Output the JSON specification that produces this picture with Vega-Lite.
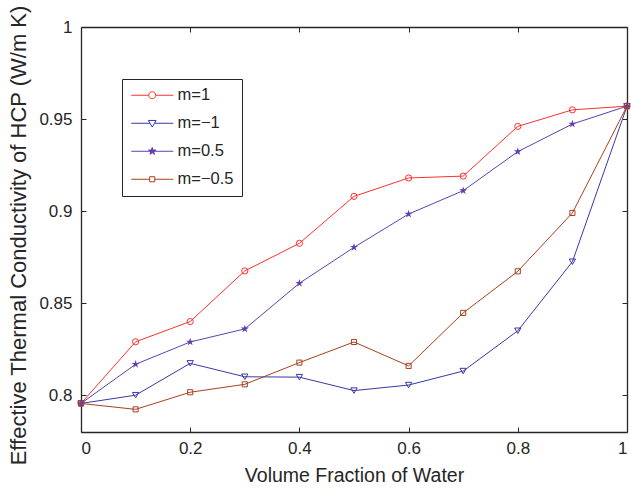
{
  "$schema": "https://vega.github.io/schema/vega-lite/v6.json",
  "width": 546,
  "height": 405,
  "autosize": {"type": "none"},
  "padding": {"left": 81, "top": 27, "right": 4, "bottom": 56},
  "background": "white",
  "config": {
    "font": "Liberation Sans",
    "view": {"stroke": null},
    "axis": {
      "grid": false,
      "domainColor": "#262626",
      "domainWidth": 1.3,
      "tickColor": "#262626",
      "tickWidth": 1,
      "tickSize": -5,
      "labelColor": "#262626",
      "labelFontSize": 17,
      "labelFont": "Liberation Sans",
      "titleColor": "#262626",
      "titleFontWeight": "normal",
      "titleFont": "Liberation Sans"
    }
  },
  "data": {
    "values": [
      {"x": 0, "y": 0.7955, "series": "m=1"},
      {"x": 0.1, "y": 0.829, "series": "m=1"},
      {"x": 0.2, "y": 0.840, "series": "m=1"},
      {"x": 0.3, "y": 0.8675, "series": "m=1"},
      {"x": 0.4, "y": 0.8825, "series": "m=1"},
      {"x": 0.5, "y": 0.908, "series": "m=1"},
      {"x": 0.6, "y": 0.918, "series": "m=1"},
      {"x": 0.7, "y": 0.919, "series": "m=1"},
      {"x": 0.8, "y": 0.946, "series": "m=1"},
      {"x": 0.9, "y": 0.955, "series": "m=1"},
      {"x": 1, "y": 0.957, "series": "m=1"},
      {"x": 0, "y": 0.7955, "series": "m=−1"},
      {"x": 0.1, "y": 0.800, "series": "m=−1"},
      {"x": 0.2, "y": 0.8173, "series": "m=−1"},
      {"x": 0.3, "y": 0.810, "series": "m=−1"},
      {"x": 0.4, "y": 0.8098, "series": "m=−1"},
      {"x": 0.5, "y": 0.8025, "series": "m=−1"},
      {"x": 0.6, "y": 0.8055, "series": "m=−1"},
      {"x": 0.7, "y": 0.8131, "series": "m=−1"},
      {"x": 0.8, "y": 0.835, "series": "m=−1"},
      {"x": 0.9, "y": 0.8725, "series": "m=−1"},
      {"x": 1, "y": 0.957, "series": "m=−1"},
      {"x": 0, "y": 0.7955, "series": "m=0.5"},
      {"x": 0.1, "y": 0.8168, "series": "m=0.5"},
      {"x": 0.2, "y": 0.8289, "series": "m=0.5"},
      {"x": 0.3, "y": 0.836, "series": "m=0.5"},
      {"x": 0.4, "y": 0.8608, "series": "m=0.5"},
      {"x": 0.5, "y": 0.8803, "series": "m=0.5"},
      {"x": 0.6, "y": 0.8984, "series": "m=0.5"},
      {"x": 0.7, "y": 0.9111, "series": "m=0.5"},
      {"x": 0.8, "y": 0.9323, "series": "m=0.5"},
      {"x": 0.9, "y": 0.9473, "series": "m=0.5"},
      {"x": 1, "y": 0.957, "series": "m=0.5"},
      {"x": 0, "y": 0.7955, "series": "m=−0.5"},
      {"x": 0.1, "y": 0.7923, "series": "m=−0.5"},
      {"x": 0.2, "y": 0.8016, "series": "m=−0.5"},
      {"x": 0.3, "y": 0.8059, "series": "m=−0.5"},
      {"x": 0.4, "y": 0.8177, "series": "m=−0.5"},
      {"x": 0.5, "y": 0.8289, "series": "m=−0.5"},
      {"x": 0.6, "y": 0.8159, "series": "m=−0.5"},
      {"x": 0.7, "y": 0.8447, "series": "m=−0.5"},
      {"x": 0.8, "y": 0.8673, "series": "m=−0.5"},
      {"x": 0.9, "y": 0.899, "series": "m=−0.5"},
      {"x": 1, "y": 0.957, "series": "m=−0.5"}
    ]
  },
  "layer": [
    {
      "mark": {"type": "line", "strokeWidth": 1},
      "encoding": {
        "x": {
          "field": "x", "type": "quantitative",
          "scale": {"domain": [0, 1], "nice": false},
          "axis": {"orient": "bottom", "values": [0, 0.2, 0.4, 0.6, 0.8, 1], "format": "~g", "title": "Volume Fraction of Water", "labelPadding": 13, "titleFontSize": 19.5, "titleBaseline": "alphabetic", "titleY": 49.7}
        },
        "y": {
          "field": "y", "type": "quantitative",
          "scale": {"domain": [0.78, 1], "nice": false, "zero": false},
          "axis": {"orient": "left", "values": [0.8, 0.85, 0.9, 0.95, 1], "format": "~g", "title": "Effective Thermal Conductivity of HCP (W/m K)", "labelPadding": 14, "titleFontSize": 22, "titleBaseline": "alphabetic", "titleX": -56, "titleY": 208}
        },
        "color": {
          "field": "series", "type": "nominal",
          "scale": {"domain": ["m=1", "m=−1", "m=0.5", "m=−0.5"], "range": ["#ff3030", "#3838a8", "#6040b0", "#a8401c"]},
          "legend": {
            "orient": "none", "legendX": 41, "legendY": 52,
            "title": null, "padding": 8,
            "fillColor": "white", "strokeColor": "#262626",
            "symbolSize": 196, "symbolStrokeWidth": 1, "symbolFillColor": "transparent",
            "labelFontSize": 16.5, "labelColor": "#262626", "labelFont": "Liberation Sans",
            "rowPadding": 11, "symbolOffset": 14, "labelOffset": 17,
            "encoding": {
              "symbols": {
                "shape": {"value": {"expr": "datum.value === 'm=1' ? 'M-3,0L-0.5,0M0.5,0L3,0M0.5,0A0.5,0.5 0 1,1 -0.5,0A0.5,0.5 0 1,1 0.5,0' : datum.value === 'm=−1' ? 'M-3,0L-0.32,0M0.32,0L3,0M-0.55,-0.4L0.55,-0.4L0,0.55Z' : datum.value === 'm=0.5' ? 'M-3,0L3,0M0,-0.55L0.124,-0.17L0.523,-0.17L0.2,0.065L0.323,0.445L0,0.21L-0.323,0.445L-0.2,0.065L-0.523,-0.17L-0.124,-0.17Z' : 'M-3,0L-0.36,0M0.36,0L3,0M-0.36,-0.36L0.36,-0.36L0.36,0.36L-0.36,0.36Z'"}},
                "fill": {"value": {"expr": "datum.value === 'm=0.5' ? '#6040b0' : 'white'"}},
                "fillOpacity": {"value": {"expr": "datum.value === 'm=0.5' ? 1 : 0"}},
                "strokeWidth": {"value": 1},
                "opacity": {"value": 1}
              }
            }
          }
        }
      }
    },
    {
      "transform": [{"filter": "datum.series === 'm=1'"}],
      "mark": {"type": "point", "filled": false, "strokeWidth": 1, "opacity": 1, "shape": "circle", "size": 38},
      "encoding": {
        "x": {"field": "x", "type": "quantitative", "axis": {"orient": "top", "values": [0, 0.2, 0.4, 0.6, 0.8, 1], "labels": false, "title": null}},
        "y": {"field": "y", "type": "quantitative", "axis": {"orient": "right", "values": [0.8, 0.85, 0.9, 0.95, 1], "labels": false, "title": null}},
        "color": {"field": "series", "type": "nominal", "legend": null}
      }
    },
    {
      "transform": [{"filter": "datum.series === 'm=−1'"}],
      "mark": {"type": "point", "filled": false, "strokeWidth": 1, "opacity": 1, "shape": "triangle-down", "size": 40},
      "encoding": {
        "x": {"field": "x", "type": "quantitative", "axis": null},
        "y": {"field": "y", "type": "quantitative", "axis": null},
        "color": {"field": "series", "type": "nominal", "legend": null}
      }
    },
    {
      "transform": [{"filter": "datum.series === 'm=0.5'"}],
      "mark": {"type": "point", "filled": true, "strokeWidth": 1, "opacity": 1, "size": 70, "shape": "M0,-1L0.225,-0.309L0.951,-0.309L0.363,0.118L0.588,0.809L0,0.382L-0.588,0.809L-0.363,0.118L-0.951,-0.309L-0.225,-0.309Z"},
      "encoding": {
        "x": {"field": "x", "type": "quantitative", "axis": null},
        "y": {"field": "y", "type": "quantitative", "axis": null},
        "color": {"field": "series", "type": "nominal", "legend": null}
      }
    },
    {
      "transform": [{"filter": "datum.series === 'm=−0.5'"}],
      "mark": {"type": "point", "filled": false, "strokeWidth": 1, "opacity": 1, "shape": "square", "size": 26},
      "encoding": {
        "x": {"field": "x", "type": "quantitative", "axis": null},
        "y": {"field": "y", "type": "quantitative", "axis": null},
        "color": {"field": "series", "type": "nominal", "legend": null}
      }
    }
  ],
  "resolve": {"axis": {"x": "independent", "y": "independent"}}
}
